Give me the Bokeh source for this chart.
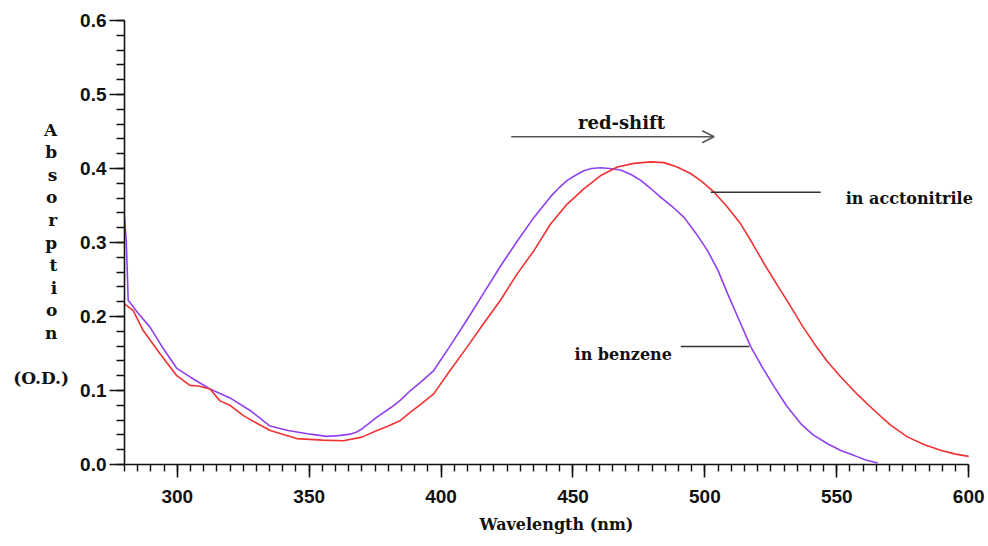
from bokeh.plotting import figure
from bokeh.models import (Range1d, SingleIntervalTicker, PrintfTickFormatter,
                          Label, Arrow, OpenHead)
from bokeh.embed import file_html
from bokeh.resources import INLINE

# ---------------- data ----------------
benzene_wl = [280, 280.7, 281.4, 285, 289.6, 295, 299.8, 305, 312.4, 320,
              327.6, 335.2, 342, 350.4, 356.7, 361, 365.6, 368, 370, 375.7,
              381, 384.6, 388.4, 392.5, 397.2, 403, 409.9, 416.2, 422.5,
              428.9, 435.2, 441.5, 445, 447.8, 451, 454.1, 457, 460.5, 464,
              468, 472, 475.7, 479.5, 483.3, 487.5, 492.1, 496.5, 501, 505,
              508.6, 513, 517.4, 522, 526.3, 531, 536.4, 541, 546.5, 551.5,
              556.7, 561, 565.5]
benzene_abs = [0.334, 0.300, 0.222, 0.205, 0.186, 0.155, 0.130, 0.118, 0.102,
               0.090, 0.073, 0.052, 0.046, 0.041, 0.038, 0.039, 0.041, 0.044,
               0.048, 0.064, 0.077, 0.087, 0.100, 0.112, 0.127, 0.158, 0.196,
               0.232, 0.268, 0.302, 0.334, 0.362, 0.375, 0.384, 0.391, 0.397,
               0.400, 0.401, 0.400, 0.398, 0.392, 0.384, 0.373, 0.361, 0.349,
               0.334, 0.313, 0.289, 0.262, 0.231, 0.195, 0.159, 0.130, 0.105,
               0.079, 0.055, 0.040, 0.028, 0.019, 0.012, 0.006, 0.002]

acn_wl = [280, 283.3, 287.1, 293.4, 299.8, 304.8, 308, 312.4, 316.2, 320,
          325.1, 330, 335.2, 345.3, 355, 363, 370, 375.7, 380, 384.6, 388.4,
          392.5, 397.2, 403, 409.9, 416, 422.5, 428.9, 435.2, 441.5, 447.8,
          454.1, 460.5, 466.8, 473.1, 479.4, 484.5, 489.5, 494.7, 499, 503.5,
          508.5, 513.6, 518, 522.5, 527.5, 532.6, 537, 541.5, 546.5, 551.6,
          558, 564.2, 570.5, 576.9, 583, 589.6, 595, 600]
acn_abs = [0.217, 0.208, 0.181, 0.150, 0.120, 0.107, 0.106, 0.102, 0.086,
           0.080, 0.066, 0.056, 0.046, 0.035, 0.033, 0.032, 0.037, 0.046,
           0.052, 0.0595, 0.0707, 0.082, 0.0955, 0.125, 0.159, 0.190, 0.222,
           0.258, 0.289, 0.325, 0.352, 0.3725, 0.3905, 0.402, 0.407, 0.409,
           0.408, 0.402, 0.393, 0.382, 0.368, 0.348, 0.325, 0.299, 0.271,
           0.242, 0.213, 0.187, 0.163, 0.139, 0.118, 0.094, 0.073, 0.053,
           0.037, 0.027, 0.019, 0.014, 0.011]

x_label = "Wavelength (nm)"
y_label_letters = "Absorption"
y_label_unit = "(O.D.)"
label_benzene = "in benzene"
label_acn = "in acctonitrile"
label_shift = "red-shift"

# ---------------- figure ----------------
SERIF = "DejaVu Serif"
SANS = "Liberation Sans"
NBSP = "\u00a0"

p = figure(width=988, height=546, output_backend="svg", toolbar_location=None,
           x_range=Range1d(280, 607.5), y_range=Range1d(0, 0.6001))
p.min_border_left = 124
p.min_border_right = 0
p.min_border_top = 20
p.min_border_bottom = 82
p.outline_line_color = None
p.xgrid.grid_line_color = None
p.ygrid.grid_line_color = None
p.background_fill_color = "white"
p.border_fill_color = "white"

xa = p.xaxis[0]
xa.ticker = SingleIntervalTicker(interval=50, num_minor_ticks=10)
xa.bounds = (280, 600)
ya = p.yaxis[0]
ya.ticker = SingleIntervalTicker(interval=0.1, num_minor_ticks=5)
ya.formatter = PrintfTickFormatter(format="%.1f")

for ax in (xa, ya):
    ax.axis_line_color = "#111111"
    ax.axis_line_width = 1.6
    ax.major_tick_line_color = "#111111"
    ax.major_tick_line_width = 1.6
    ax.minor_tick_line_color = "#111111"
    ax.minor_tick_line_width = 1.4
    ax.major_tick_in = 0
    ax.minor_tick_in = 0
    ax.major_label_text_font = SANS
    ax.major_label_text_font_style = "bold"
    ax.major_label_text_font_size = "19px"
    ax.major_label_text_color = "#111111"

xa.major_tick_out = 13
xa.minor_tick_out = 7
xa.major_label_standoff = 12
xa.axis_label = x_label
xa.axis_label_text_font = SERIF
xa.axis_label_text_font_style = "bold"
xa.axis_label_text_font_size = "16px"
xa.axis_label_text_color = "#111111"
xa.axis_label_standoff = 9

ya.major_tick_out = 15
ya.minor_tick_out = 8
ya.major_label_standoff = 3
# stacked vertical label: one letter per line, then the unit
letters = [ch + NBSP * 2 for ch in y_label_letters]
ya.axis_label = " \n" + "\n".join(letters) + "\n\n" + y_label_unit
ya.axis_label_orientation = "horizontal"
ya.axis_label_text_font = SERIF
ya.axis_label_text_font_style = "bold"
ya.axis_label_text_font_size = "17px"
ya.axis_label_text_line_height = 1.13
ya.axis_label_text_color = "#111111"
ya.axis_label_standoff = 8

# ---------------- curves ----------------
p.line(benzene_wl, benzene_abs, line_color="#9040F0", line_width=1.6)
p.line(acn_wl, acn_abs, line_color="#F03232", line_width=1.6)

# ---------------- annotations ----------------
p.add_layout(Arrow(end=OpenHead(size=12, line_color="#555555", line_width=1.5),
                   x_start=426.6, y_start=0.443, x_end=503.5, y_end=0.443,
                   line_color="#555555", line_width=1.6))
p.add_layout(Label(x=468.4, y=0.4626, text=label_shift, text_align="center",
                   text_baseline="alphabetic", text_font=SERIF,
                   text_font_style="bold", text_font_size="18px",
                   text_color="#111111"))

p.add_layout(Arrow(end=None, x_start=502.2, y_start=0.368, x_end=543.9,
                   y_end=0.368, line_color="#333333", line_width=1.6))
p.add_layout(Label(x=553.4, y=0.359, text=label_acn, text_align="left",
                   text_baseline="alphabetic", text_font=SERIF,
                   text_font_style="bold", text_font_size="16px",
                   text_color="#111111"))
p.add_layout(Arrow(end=None, x_start=490.9, y_start=0.1595, x_end=516.8,
                   y_end=0.1595, line_color="#333333", line_width=1.6))
p.add_layout(Label(x=450.6, y=0.1486, text=label_benzene, text_align="left",
                   text_baseline="alphabetic", text_font=SERIF,
                   text_font_style="bold", text_font_size="16px",
                   text_color="#111111"))

open("out.html", "w").write(file_html(p, INLINE))
